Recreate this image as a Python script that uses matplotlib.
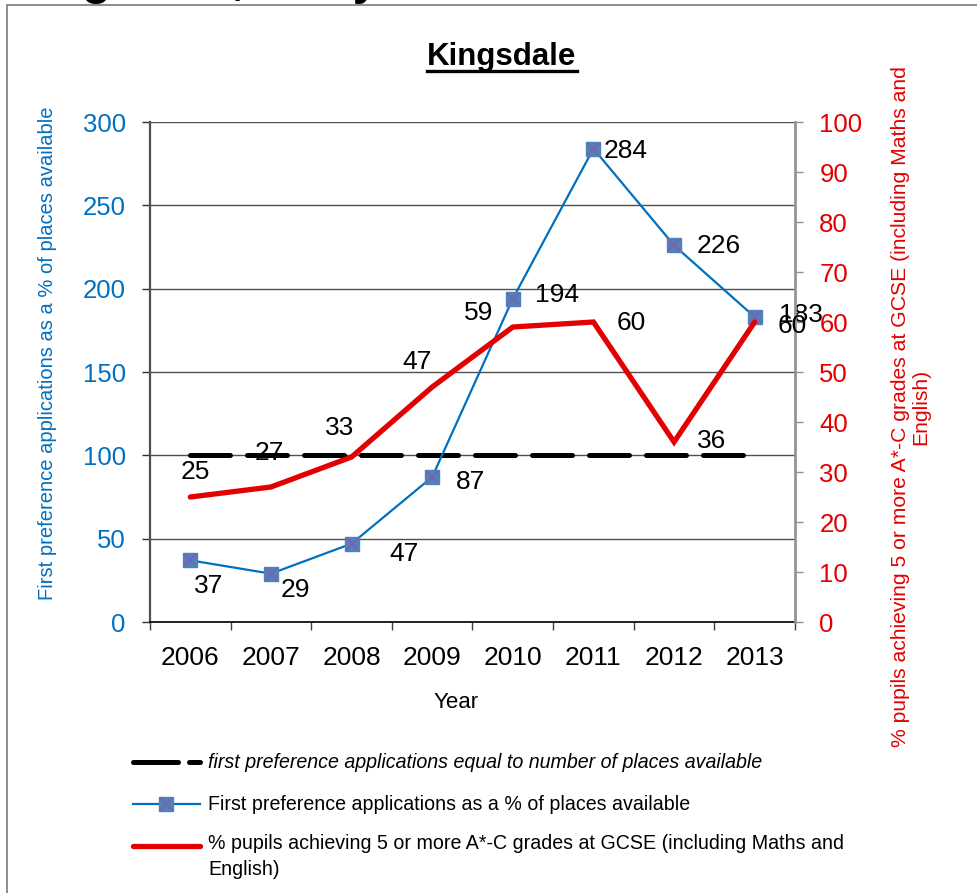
import numpy as np
import matplotlib
matplotlib.use('Agg')
import matplotlib.pyplot as plt
from matplotlib.lines import Line2D
from matplotlib.patches import Rectangle

plt.rcParams['font.family'] = ['Liberation Sans', 'DejaVu Sans']

#%% - Data
years = ['2006', '2007', '2008', '2009', '2010', '2011', '2012', '2013']
first_pref = [37, 29, 47, 87, 194, 284, 226, 183]   # % of places available
gcse = [25, 27, 33, 47, 59, 60, 36, 60]              # % 5+ A*-C incl. Maths & English
places_line = [100] * len(years)                      # applications == places

label_first = 'First preference applications as a % of places available'
label_gcse = '% pupils achieving 5 or more A*-C grades at GCSE (including Maths and\nEnglish)'
label_places = 'first preference applications equal to number of places available'

#%% - Label offsets (pixels, right / up)
off_first = [(18, -26), (24, -16), (53, -10), (38, -5), (44, 4), (32, -2), (45, -1), (46, 2)]
off_gcse = [(5, 25), (-2, 34), (-12, 29), (-15, 25), (-34, 14), (38, -1), (38, 1), (38, -4)]

BLUE = '#0070C0'
RED = '#E30000'
W, H = 978, 893

fig = plt.figure(figsize=(W / 100, H / 100), dpi=100)
ax = fig.add_axes([150 / W, 1 - 622 / H, 645 / W, 500 / H])
ax2 = ax.twinx()

x = np.arange(len(years))

#%% - Left axis series
ax.plot(x, places_line, color='black', lw=3.6, dashes=(8, 3.4), solid_capstyle='round',
        dash_capstyle='round', zorder=2)
ax.plot(x, first_pref, color=BLUE, lw=1.6, marker='s', ms=10, mfc='#4F81BD', mec='#4F81BD', zorder=3)
ax.plot(x, first_pref, ls='none', marker='x', ms=9, mew=1.2, color='#7F5FA5', zorder=4)
for xi, v, (dx, dy) in zip(x, first_pref, off_first):
    ax.annotate(str(v), (xi, v), xytext=(dx, dy), textcoords='offset pixels',
                ha='center', va='center', fontsize=19, color='black', zorder=5)

#%% - Right axis series
ax2.plot(x, gcse, color=RED, lw=3.8, solid_capstyle='round', solid_joinstyle='miter', zorder=3)
for xi, v, (dx, dy) in zip(x, gcse, off_gcse):
    ax2.annotate(str(v), (xi, v), xytext=(dx, dy), textcoords='offset pixels',
                 ha='center', va='center', fontsize=19, color='black', zorder=5)

#%% - Axes formatting
ax.set_xlim(-0.5, 7.5)
ax.set_ylim(0, 300)
ax2.set_ylim(0, 100)
ax.set_yticks(np.arange(0, 301, 50))
ax2.set_yticks(np.arange(0, 101, 10))
ax.set_xticks(x)
ax.set_xticklabels(years)
ax.set_xticks(np.arange(-0.5, 8, 1), minor=True)
ax.tick_params(axis='x', which='major', length=0, pad=17, labelsize=19)
ax.tick_params(axis='x', which='minor', length=6, color='#404040', width=1)
ax.tick_params(axis='y', length=5.5, width=1, color='#303030', pad=12, labelsize=18.5, labelcolor=BLUE)
ax2.tick_params(axis='y', length=5.5, width=1, color='#909090', pad=12, labelsize=18.5, labelcolor=RED)

ax.yaxis.grid(True, color='#505050', lw=1)
ax.set_axisbelow(True)
for a in (ax, ax2):
    a.spines['top'].set_visible(False)
ax.spines['left'].set_color('#505050')
ax.spines['left'].set_linewidth(1.6)
ax.spines['bottom'].set_color('black')
ax.spines['bottom'].set_linewidth(1.2)
ax2.spines['right'].set_color('#959595')
ax2.spines['right'].set_linewidth(2)
ax2.spines['left'].set_visible(False)
ax2.spines['bottom'].set_visible(False)

#%% - Titles and axis labels
fig.text(6 / W, 1 + 6 / H, 'Kingsdale, Entry', fontsize=34, fontweight='bold', ha='left', va='baseline')
t = fig.text(502 / W, 1 - 57 / H, 'Kingsdale', fontsize=22.5, fontweight='bold', ha='center', va='center')
fig.canvas.draw()
bb = t.get_window_extent().transformed(fig.transFigure.inverted())
fig.add_artist(Line2D([bb.x0, bb.x1], [1 - 71 / H] * 2, color='black', lw=2.4, transform=fig.transFigure))

fig.text(48 / W, 1 - 353 / H, label_first, rotation=90, color=BLUE, fontsize=14.5, ha='center', va='center')
fig.text(911 / W, 1 - 407 / H, label_gcse, rotation=90, color=RED, fontsize=15.2, ha='center', va='center',
         multialignment='center', linespacing=1.1)
fig.text(456 / W, 1 - 702 / H, 'Year', fontsize=16, ha='center', va='center')

#%% - Legend (drawn by hand so the handle sits on the first text line)
def px(xp, yp):
    return xp / W, 1 - yp / H

x0, x1, xm, xt = 133, 200, 166, 208
ya, yb, yc = 762, 804, 846
fs_leg = 14.1
fig.add_artist(Line2D(*zip(px(x0, ya), px(x1, ya)), color='black', lw=3.6, dashes=(9, 2.2),
                      dash_capstyle='round', transform=fig.transFigure))
fig.add_artist(Line2D(*zip(px(x0, yb), px(x1, yb)), color=BLUE, lw=1.6, transform=fig.transFigure))
fig.add_artist(Line2D(*zip(px(xm, yb)), ls='none', marker='s', ms=10, mfc='#4F81BD', mec='#4F81BD',
                      transform=fig.transFigure))
fig.add_artist(Line2D(*zip(px(xm, yb)), ls='none', marker='x', ms=9, mew=1.2, color='#7F5FA5',
                      transform=fig.transFigure))
fig.add_artist(Line2D(*zip(px(x0, yc), px(x1, yc)), color=RED, lw=3.8, solid_capstyle='round',
                      transform=fig.transFigure))
fig.text(*px(xt, ya), label_places, fontsize=fs_leg, style='italic', ha='left', va='center')
fig.text(*px(xt, yb), label_first, fontsize=fs_leg, ha='left', va='center')
fig.text(*px(xt, yc - 12), label_gcse, fontsize=fs_leg, ha='left', va='top', linespacing=1.45)

#%% - Outer frame
fig.add_artist(Rectangle((7 / W, -0.05), 1.2, 1.05 - 5 / H, fill=False, edgecolor='#7a7a7a', lw=1.2,
                         transform=fig.transFigure))

fig.savefig('out.png', dpi=100)
